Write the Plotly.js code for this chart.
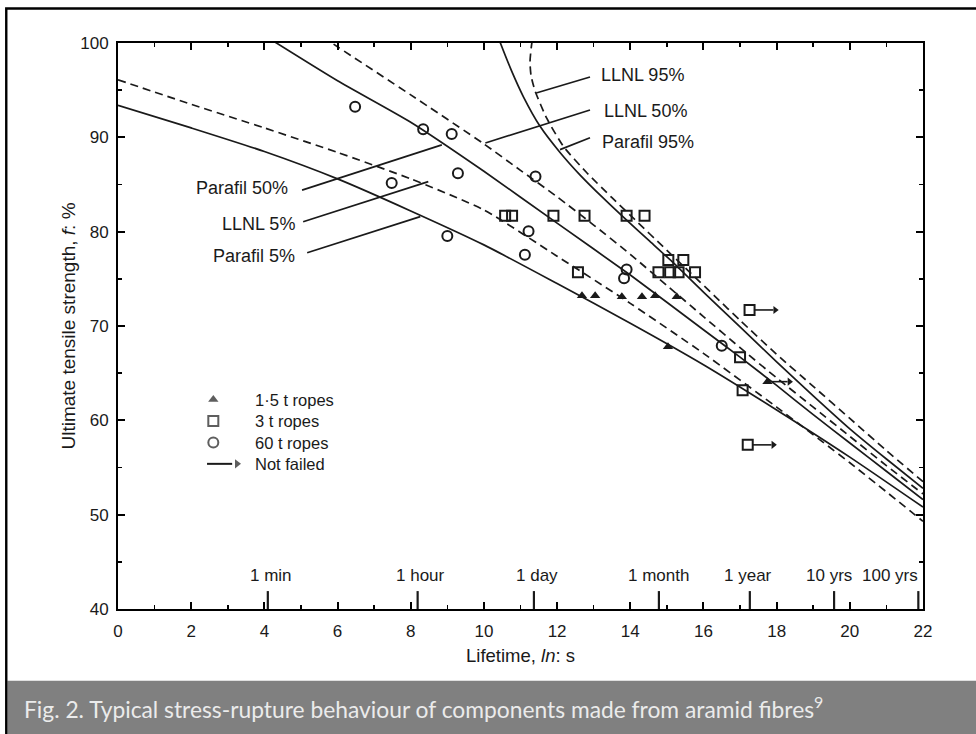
<!DOCTYPE html>
<html><head><meta charset="utf-8">
<script src="https://cdn.plot.ly/plotly-3.0.1.min.js"></script>
<style>html,body{margin:0;padding:0;background:#fff}#chart{width:976px;height:734px}</style>
</head><body><div id="chart"></div>
<script>
// ---- curves ----
const parafil5X = [0,2,4,6,8,10,12,14,16,18,20,22];
const parafil5Y = [93.4,91.0,88.5,85.6,82.2,78.6,74.5,70.3,65.9,61.1,56.1,50.8];
const llnl5X = [0,2,4,6,8,10,12,14,16,18,20,22];
const llnl5Y = [96.1,93.5,91.0,88.4,85.6,82.3,77.4,72.4,67.1,61.4,55.5,49.3];
const parafil50X = [4,6,8,10,12,14,16,17,18,19,20,21,22];
const parafil50Y = [100.8,96.0,91.6,86.4,80.9,75.4,69.6,66.7,63.7,60.6,57.6,54.6,51.6];
const llnl50X = [5,6,8,10,11,12,13,14,15,16,17,18,19,20,21,22];
const llnl50Y = [102.2,99.6,94.5,89.3,86.5,83.7,80.7,77.6,74.3,71.0,67.7,64.5,61.4,58.3,55.2,52.2];
const parafil95X = [10.2,10.45,10.75,11.08,11.53,12.08,12.63,13.25,13.85,14.5,15.15,16,17,18,19,20,21,22];
const parafil95Y = [102.6,100,97.1,94.3,91.2,88.4,86.0,83.6,81.4,79.1,76.8,73.6,69.9,66.2,62.6,59.1,55.9,52.8];
const llnl95X = [11.4,11.31,11.26,11.29,11.4,11.72,12.18,12.8,13.5,14.2,14.9,15.6,16.3,17,18,19,20,21,22];
const llnl95Y = [101.6,100,98.0,96.5,94.9,92.0,89.0,86.3,83.6,81.0,78.4,75.8,73.2,70.6,67.0,63.6,60.2,56.8,53.5];

// ---- test points ----
const rope15X = [12.68,13.04,13.77,14.32,14.68,15.27,15.03,17.75];
const rope15Y = [73.2,73.2,73.1,73.1,73.2,73.1,67.8,64.1];
const rope3X = [10.58,10.77,11.9,12.75,13.9,14.39,15.04,15.45,12.57,14.77,15.09,15.32,15.77,17.26,17.0,17.07,17.21];
const rope3Y = [81.7,81.7,81.7,81.7,81.7,81.7,77.0,77.0,75.7,75.7,75.7,75.7,75.7,71.7,66.7,63.2,57.4];
const rope60X = [6.48,8.34,9.12,9.29,7.48,11.41,11.22,11.12,9.0,13.9,13.83,16.5];
const rope60Y = [93.25,90.85,90.35,86.2,85.15,85.85,80.05,77.55,79.55,76.0,75.05,67.9];
const notFailedX = [17.26,17.21,17.75];
const notFailedY = [71.7,57.4,64.1];
const notFailedToX = [17.96,17.91,18.35];

// ---- curve labels ----
const curveLabels = ['LLNL 95%','LLNL 50%','Parafil 95%','Parafil 50%','LLNL 5%','Parafil 5%'];
const labelX = [13.15,13.23,13.18,4.71,4.90,4.90];
const labelY = [96.6,92.8,89.5,84.65,80.8,77.4];
const labelAnchor = ['left','left','left','right','right','right'];
const leaderX0 = [12.9,12.9,12.9,5.03,5.06,5.17];
const leaderY0 = [96.4,92.9,89.95,84.4,81.05,77.76];
const leaderX1 = [11.43,10.04,12.08,8.85,8.48,8.26];
const leaderY1 = [94.7,89.4,88.7,89.2,85.3,81.6];

// ---- time scale ----
const timeLabels = ['1 min','1 hour','1 day','1 month','1 year','10 yrs','100 yrs'];
const timeSeconds = [60,3600,86400,2629800,31557600,315576000,3155760000];
const timeAnchor = ['center','center','center','center','center','center','right'];
const timeShift = [3,3,3,0,-2,-5,2];

// ---- legend (positions as fractions of the plot area) ----
const legendLabels = ['1·5 t ropes','3 t ropes','60 t ropes','Not failed'];
const legendCenterFracY = 0.3133;   // middle of the four rows
const legendRowPx = 21.45;          // row pitch of a 16.5px text block
const legendKeyFracX = 0.1184, legendArrowFrom = 0.1106, legendArrowTo = 0.1478, legendTextFracX = 0.1684;

const xRange = [0,22], yRange = [40,100];
const xTicks = [0,2,4,6,8,10,12,14,16,18,20,22];
const yTicks = [40,50,60,70,80,90,100];
const plotHeightPx = 734-43-125;

const fx = f => xRange[0] + f*(xRange[1]-xRange[0]);
const fy = f => yRange[0] + f*(yRange[1]-yRange[0]);
const legendFracY = legendLabels.map((_,i)=> legendCenterFracY + (1.5 - i)*legendRowPx/plotHeightPx);

const ink = '#1a1a1a';
const FONT = 'Liberation Sans, Arial, sans-serif';

function curve(x, y, dashed){
  return {x:x, y:y, type:'scatter', mode:'lines', showlegend:false, hoverinfo:'skip',
    line:{color:ink, width:1.7, dash: dashed ? '8px,5px' : 'solid', shape:'spline', smoothing:0.6}};
}
const traces = [
  curve(parafil5X, parafil5Y, false),
  curve(llnl5X, llnl5Y, true),
  curve(parafil50X, parafil50Y, false),
  curve(llnl50X, llnl50Y, true),
  curve(parafil95X, parafil95Y, false),
  curve(llnl95X, llnl95Y, true),
  {x:rope15X, y:rope15Y, type:'scatter', mode:'markers', showlegend:false,
   marker:{symbol:'triangle-up', size:9, color:ink}},
  {x:rope3X, y:rope3Y, type:'scatter', mode:'markers', showlegend:false,
   marker:{symbol:'square-open', size:10, color:ink, line:{width:2, color:ink}}},
  {x:rope60X, y:rope60Y, type:'scatter', mode:'markers', showlegend:false,
   marker:{symbol:'circle-open', size:10, color:ink, line:{width:2, color:ink}}},
  // arrow heads for "not failed"
  {x:notFailedToX, y:notFailedY, type:'scatter', mode:'markers', showlegend:false, hoverinfo:'skip',
   marker:{symbol:'triangle-right', size:7, color:ink}},
  // legend keys
  {x:[fx(legendKeyFracX),fx(legendKeyFracX),fx(legendKeyFracX),fx(legendArrowTo)], y:legendFracY.map(fy),
   type:'scatter', mode:'markers', showlegend:false, hoverinfo:'skip', cliponaxis:false,
   marker:{symbol:['triangle-up','square-open','circle-open','triangle-right'], size:[9,10,10,8], color:ink,
     line:{width:[0,2,2,0],color:ink}}}
];

const annotations = [];
const shapes = [];

// caption bar and frame
shapes.push({type:'rect', xref:'paper', yref:'paper', x0:-0.1375, x1:1.07, y0:-0.2210, y1:-0.1267,
  fillcolor:'#808080', line:{width:0}, layer:'below'});
shapes.push({type:'rect', xref:'paper', yref:'paper', x0:-0.1388, x1:1.2, y0:-0.4, y1:1.0610,
  fillcolor:'rgba(0,0,0,0)', line:{width:2.4, color:'#000'}, layer:'above'});

// curve labels and leaders
curveLabels.forEach((t,i)=>{
  annotations.push({x:labelX[i], y:labelY[i], xref:'x', yref:'y', text:t, showarrow:false,
    xanchor:labelAnchor[i], yanchor:'middle', font:{family:FONT, size:18, color:ink}});
  shapes.push({type:'line', xref:'x', yref:'y', x0:leaderX0[i], y0:leaderY0[i], x1:leaderX1[i], y1:leaderY1[i],
    line:{color:ink, width:1.7}});
});

// time ticks and labels
timeLabels.forEach((t,i)=>{
  const lx = Math.log(timeSeconds[i]);
  shapes.push({type:'line', xref:'x', yref:'y', x0:lx, x1:lx, y0:40, y1:41.9, line:{color:ink, width:2.2}});
  annotations.push({x:lx, y:43.55, xref:'x', yref:'y', text:t, showarrow:false, xanchor:timeAnchor[i],
    yanchor:'middle', xshift:timeShift[i], font:{family:FONT, size:17, color:ink}});
});

// not failed arrow shafts
notFailedX.forEach((x,i)=>{
  shapes.push({type:'line', xref:'x', yref:'y', x0:x+0.12, x1:notFailedToX[i]-0.05, y0:notFailedY[i], y1:notFailedY[i],
    line:{color:ink, width:1.6}});
});

// legend text block + arrow shaft
annotations.push({x:legendTextFracX, y:legendCenterFracY, xref:'paper', yref:'paper', text:legendLabels.join('<br>'),
  showarrow:false, xanchor:'left', yanchor:'middle', align:'left', borderpad:0,
  font:{family:FONT, size:16.5, color:ink}});
shapes.push({type:'line', xref:'paper', yref:'paper', x0:legendArrowFrom, x1:legendArrowTo-0.006,
  y0:legendFracY[3], y1:legendFracY[3], line:{color:ink, width:2}});

// caption
annotations.push({x:-0.119, y:-0.1735, xref:'paper', yref:'paper', xanchor:'left', yanchor:'middle', showarrow:false,
  text:'Fig. 2. Typical stress-rupture behaviour of components made from aramid fibres<sup>9</sup>',
  font:{family:'Lato, Open Sans, sans-serif', size:22.8, color:'#ebebeb'}});

const axisCommon = {showline:true, linecolor:'#000', linewidth:2, mirror:'ticks', showgrid:false, zeroline:false,
  ticks:'inside', tickcolor:'#000', tickwidth:2, tickfont:{family:FONT, size:17, color:ink}};

const layout = {
  width:976, height:734,
  margin:{l:118, r:53, t:43, b:125},
  paper_bgcolor:'#fff', plot_bgcolor:'#fff',
  showlegend:false,
  xaxis:Object.assign({}, axisCommon, {range:xRange, tickvals:xTicks, ticklen:7, ticklabelstandoff:6,
    minor:{dtick:1, ticks:'inside', ticklen:4, tickcolor:'#000', tickwidth:1.5},
    title:{text:'Lifetime, <i>ln</i>: s', font:{family:FONT, size:18.5, color:ink}, standoff:9}}),
  yaxis:Object.assign({}, axisCommon, {range:yRange, tickvals:yTicks, ticklen:7, ticklabelstandoff:4,
    minor:{dtick:5, ticks:'inside', ticklen:4, tickcolor:'#000', tickwidth:1.5},
    title:{text:'Ultimate tensile strength, <i>f</i>: %', font:{family:FONT, size:19, color:ink}, standoff:0}}),
  shapes:shapes,
  annotations:annotations
};

Plotly.newPlot('chart', traces, layout, {staticPlot:true, displayModeBar:false});
</script>
</body></html>
